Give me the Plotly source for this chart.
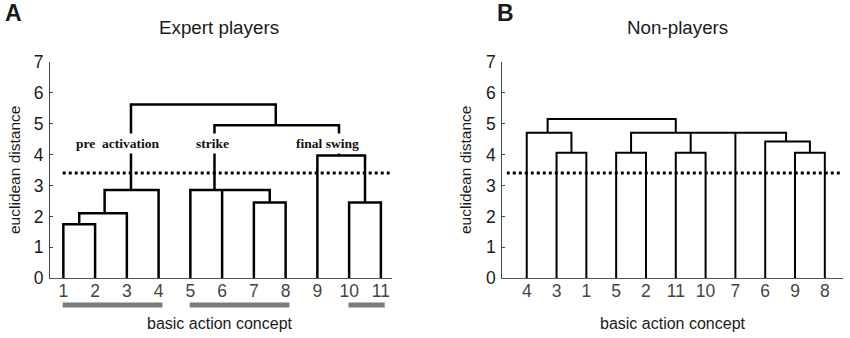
import plotly.graph_objects as go

# ---------------- Panel A: Expert players ----------------
a_tick_labels = ["1", "2", "3", "4", "5", "6", "7", "8", "9", "10", "11"]
# each link: U-shape between left/right child positions (leaf units)
a_left_x = [1, 1.5, 2.3, 3.13, 5.76, 9, 10, 7, 5]
a_right_x = [2, 3, 4, 7.69, 9.68, 10.5, 11, 8, 7.5]
a_left_base = [0, 1.75, 2.1, 2.85, 2.85, 0, 0, 0, 0]
a_right_base = [0, 0, 0, 4.95, 3.97, 2.45, 0, 0, 2.45]
a_height = [1.75, 2.1, 2.85, 5.62, 4.95, 3.97, 2.45, 2.45, 2.85]
a_extra_x = [6]
a_extra_base = [0]
a_extra_top = [2.85]
a_cluster_names = ["pre  activation", "strike", "final swing"]
a_cluster_x = [2.69, 5.71, 9.32]
a_cluster_y = [4.37, 4.37, 4.37]
a_group_start = [1, 5, 10]
a_group_end = [4, 8, 11]
a_cut_span = [0.98, 11.35]

# ---------------- Panel B: Non-players ----------------
b_tick_labels = ["4", "3", "1", "5", "2", "11", "10", "7", "6", "9", "8"]
b_left_x = [2, 1, 4, 6, 10, 9, 4.5, 1.7]
b_right_x = [3, 2.5, 5, 7, 11, 10.5, 9.7, 6]
b_left_base = [0, 0, 0, 0, 0, 0, 4.06, 4.70]
b_right_base = [0, 4.06, 0, 0, 0, 4.06, 4.42, 4.70]
b_height = [4.06, 4.70, 4.06, 4.06, 4.06, 4.42, 4.70, 5.15]
b_extra_x = [6.5, 8]
b_extra_base = [4.06, 0]
b_extra_top = [4.70, 4.70]
b_cut_span = [0.33, 11.6]

threshold = 3.4

W, H = 850, 338


def px(x):
    return x / W


def py(y):
    return 1 - y / H


def link_path(lx, rx, lb, rb, h, ex, eb, et):
    xs, ys = [], []
    for l, r, b1, b2, top in zip(lx, rx, lb, rb, h):
        xs += [l, l, r, r, None]
        ys += [b1, top, top, b2, None]
    for x, b, t in zip(ex, eb, et):
        xs += [x, x, None]
        ys += [b, t, None]
    return xs, ys


fig = go.Figure()

ax, ay = link_path(a_left_x, a_right_x, a_left_base, a_right_base, a_height,
                   a_extra_x, a_extra_base, a_extra_top)
fig.add_trace(go.Scatter(x=ax, y=ay, mode="lines", xaxis="x", yaxis="y",
                         line=dict(color="black", width=2.5), showlegend=False,
                         hoverinfo="skip"))
fig.add_trace(go.Scatter(x=a_cut_span, y=[threshold, threshold], mode="lines",
                         xaxis="x", yaxis="y",
                         line=dict(color="black", width=3, dash="dot"),
                         showlegend=False, hoverinfo="skip"))

bx, by = link_path(b_left_x, b_right_x, b_left_base, b_right_base, b_height,
                   b_extra_x, b_extra_base, b_extra_top)
fig.add_trace(go.Scatter(x=bx, y=by, mode="lines", xaxis="x2", yaxis="y2",
                         line=dict(color="black", width=2), showlegend=False,
                         hoverinfo="skip"))
fig.add_trace(go.Scatter(x=b_cut_span, y=[threshold, threshold], mode="lines",
                         xaxis="x2", yaxis="y2",
                         line=dict(color="black", width=3, dash="dot"),
                         showlegend=False, hoverinfo="skip"))

ydom = [py(278.3), py(61.7)]
tickfont = dict(family="Liberation Sans, Arial", size=17.5, color="#444")
common_y = dict(range=[0, 7], domain=ydom, tickvals=list(range(8)),
                ticks="inside", ticklen=3, tickcolor="#444", showline=True,
                linecolor="#444", linewidth=1, showgrid=False, zeroline=False,
                automargin=False,
                tickfont=dict(family="Liberation Sans, Arial", size=17.5, color="#1a1a1a"),
                ticklabelstandoff=2, fixedrange=True)
common_x = dict(showline=True, linecolor="#555", linewidth=1, showgrid=False,
                zeroline=False, ticks="", tickfont=tickfont, automargin=False,
                ticklabelstandoff=-3, fixedrange=True)

fig.update_layout(
    template="none",
    width=W, height=H, margin=dict(l=0, r=0, t=0, b=0, pad=0, autoexpand=False),
    paper_bgcolor="white", plot_bgcolor="white",
    xaxis=dict(common_x, domain=[px(50), px(392)], range=[0.58, 11.35],
               tickvals=list(range(1, 12)), ticktext=a_tick_labels, anchor="y"),
    yaxis=dict(common_y, anchor="x"),
    xaxis2=dict(common_x, domain=[px(502.3), px(843)], range=[0.18, 11.61],
                tickvals=list(range(1, 12)), ticktext=b_tick_labels, anchor="y2"),
    yaxis2=dict(common_y, anchor="x2"),
)

# group bars under panel A labels
for s, e in zip(a_group_start, a_group_end):
    fig.add_shape(type="rect", xref="x", yref="paper",
                  x0=s - 0.02, x1=e + 0.12, y0=py(307.6), y1=py(302.4),
                  fillcolor="#7a7a7a", line=dict(width=0))

# cluster labels (white background interrupts the vertical links)
for name, x, y in zip(a_cluster_names, a_cluster_x, a_cluster_y):
    fig.add_annotation(x=x, y=y, xref="x", yref="y", text="<b>%s</b>" % name,
                       showarrow=False, bgcolor="white", borderpad=2,
                       font=dict(family="Liberation Serif, Times New Roman",
                                 size=13.5, color="#111"))

sans = "Liberation Sans, Arial"
texts = [
    ("<b>A</b>", 3, 13, 23, "left", 0),
    ("<b>B</b>", 495, 13, 23, "left", 0),
    ("Expert players", 219, 28, 18.8, "center", 0),
    ("Non-players", 677, 28, 18.8, "center", 0),
    ("basic action concept", 220, 323, 16, "center", 0),
    ("basic action concept", 673, 323, 16, "center", 0),
    ("euclidean distance", 14, 170, 15.5, "center", -90),
    ("euclidean distance", 465, 170, 15.5, "center", -90),
]
for t, x, y, s, anc, ang in texts:
    fig.add_annotation(x=px(x), y=py(y), xref="paper", yref="paper", text=t,
                       showarrow=False, xanchor=anc, yanchor="middle",
                       textangle=ang,
                       font=dict(family=sans, size=s, color="#1a1a1a"))

fig.write_html("out.html",
               config={"displayModeBar": False, "staticPlot": True},
               post_script="document.body.style.margin='0';"
                           "document.body.style.overflow='hidden';")
